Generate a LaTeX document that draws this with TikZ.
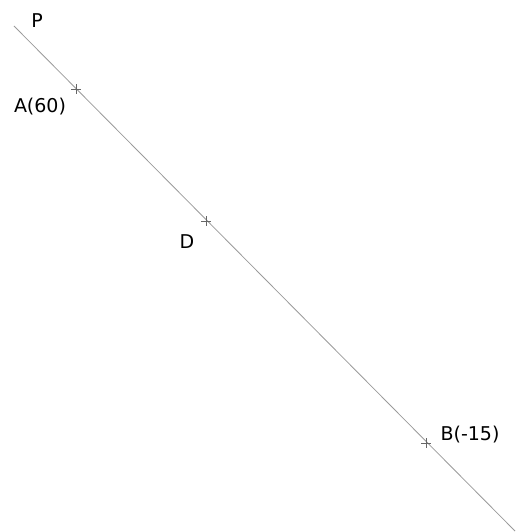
\documentclass[tikz,border=0pt]{standalone}
\usepackage{fontspec}
\setmainfont{DejaVu Sans}
\usetikzlibrary{shapes.misc}
\definecolor{cline}{HTML}{9A9A9A}
\tikzset{
  tick/.style={draw=black!60, cross out, rotate=45, minimum size=6pt, inner sep=0pt, line width=0.5pt},
  lbl/.style={font=\fontsize{19}{21}\selectfont, text=black, inner sep=0pt},
  axis/.style={draw=cline, line width=0.8pt},
}
\begin{document}
\begin{tikzpicture}[x=1pt,y=-1pt]
\useasboundingbox (0,0) rectangle (517,532);
\coordinate (p) at (14,26);
\coordinate (e) at (515,531);
\draw[axis] (p) -- (e);
\node[tick] (a) at (76,89) {};
\node[tick] (d) at (206,221) {};
\node[tick] (b) at (426,443) {};
\node[lbl] (pl) at (37,21) {P};
\node[lbl] (al) at (40,107) {A(60)};
\node[lbl] (dl) at (187,242) {D};
\node[lbl] (bl) at (470,435) {B(-15)};
\end{tikzpicture}
\end{document}
